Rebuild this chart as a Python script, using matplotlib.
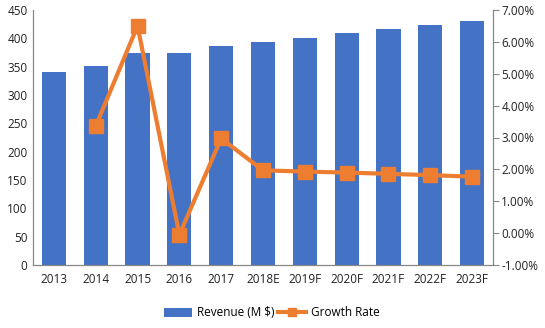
import matplotlib
matplotlib.use("Agg")
import matplotlib.pyplot as plt
from matplotlib.ticker import FuncFormatter

years = ["2013", "2014", "2015", "2016", "2017", "2018E", "2019F", "2020F", "2021F", "2022F", "2023F"]
revenue = [340, 351, 375, 375, 386, 393, 401, 409, 416, 423, 431]
growth = [None, 3.36, 6.50, -0.05, 2.97, 1.97, 1.93, 1.90, 1.86, 1.82, 1.77]

plt.rcParams['font.family'] = ['Open Sans', 'DejaVu Sans']
fig = plt.figure(figsize=(5.45, 3.28), dpi=100)
ax = fig.add_axes([33/545, 1-265/328, (493-33)/545, 255/328])
x = list(range(len(years)))
bars = ax.bar(x, revenue, width=0.58, color="#4472C4", label="Revenue (M $)", zorder=2)
ax.set_ylim(0, 450)
ax.set_yticks(range(0, 451, 50))
ax.set_xlim(-0.5, len(years) - 0.5)
ax.set_xticks(x)
ax.set_xticklabels(years)
ax.tick_params(axis='both', length=0, labelsize=8.5, colors="#222222", pad=6)
ax.tick_params(axis='y', pad=4)
for s in ["top", "right"]:
    ax.spines[s].set_visible(False)
for s in ["left", "bottom"]:
    ax.spines[s].set_color("#888888")
    ax.spines[s].set_linewidth(0.9)

ax2 = ax.twinx()
gx = [i for i, g in zip(x, growth) if g is not None]
gy = [g for g in growth if g is not None]
line, = ax2.plot(gx, gy, color="#ED7D31", linewidth=3, marker="s", markersize=9.5,
                 label="Growth Rate", zorder=3)
ax2.set_ylim(-1, 7)
ax2.set_yticks(range(-1, 8))
ax2.yaxis.set_major_formatter(FuncFormatter(lambda v, p: f"{v:.2f}%"))
ax2.tick_params(axis='y', length=4, direction='out', labelsize=8.5, colors="#222222", pad=2)
ax2.tick_params(axis='y', color="#888888")
for s in ["top", "left", "bottom"]:
    ax2.spines[s].set_visible(False)
ax2.spines["right"].set_color("#888888")
ax2.spines["right"].set_linewidth(0.9)

fig.legend([bars, line], ["Revenue (M $)", "Growth Rate"], loc="center",
           bbox_to_anchor=(272/545, 1-313/328), ncol=2, frameon=False,
           fontsize=8.5, handlelength=2.4, columnspacing=0.3, handletextpad=0.4,
           markerscale=0.6)

fig.savefig("out.png", dpi=100)
